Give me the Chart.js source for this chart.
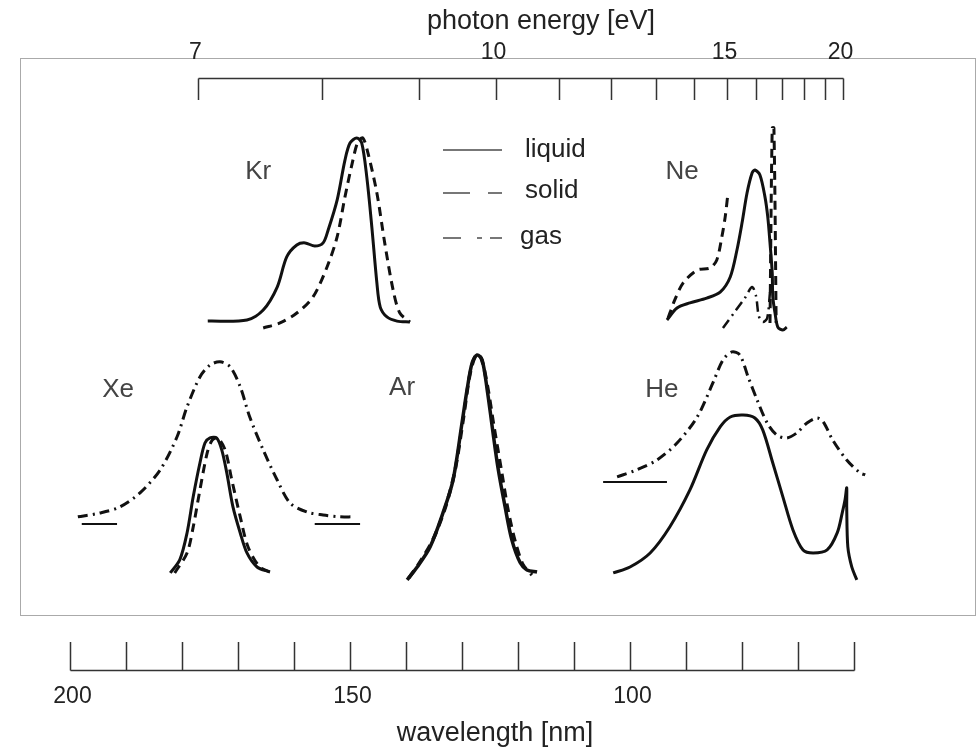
<!DOCTYPE html>
<html>
<head>
<meta charset="utf-8">
<script src="https://cdn.jsdelivr.net/npm/chart.js@4.4.1/dist/chart.umd.min.js"></script>
<style>
  html, body { margin: 0; padding: 0; background: #fff; }
  #wrap { width: 980px; height: 748px; }
</style>
</head>
<body>
<div id="wrap"><canvas id="c" width="980" height="748"></canvas></div>
<script>
// luminescence spectra of rare gases, wavelength in nm, intensity in arbitrary units
const krLiquidNm = [175.4, 168.4, 165.5, 163.0, 161.3, 159.5, 158.0, 156.3, 154.8, 153.9, 152.3, 150.9, 150.0, 148.8, 147.9, 147.0, 146.1, 145.2, 144.6, 143.4, 141.6, 139.3];
const krLiquidI  = [1.7, 2.2, 6.5, 16.5, 29.6, 34.8, 35.7, 34.3, 35.7, 41.3, 54.3, 71.7, 79.1, 81.3, 79.1, 64.3, 42.6, 18.3, 7.8, 3.5, 1.7, 1.3];
const krSolidNm  = [165.5, 162.5, 159.5, 156.6, 154.1, 152.3, 150.9, 149.6, 148.6, 147.7, 146.8, 145.2, 143.8, 142.3, 141.1, 139.3];
const krSolidI   = [-1.3, 0.9, 5.2, 12.2, 25.2, 38.3, 55.7, 70.4, 79.6, 81.3, 74.8, 57.4, 35.7, 15.2, 5.2, 1.3];

const neLiquidNm = [93.4, 91.6, 89.3, 86.3, 83.9, 82.1, 80.9, 80.0, 79.1, 78.2, 77.7, 76.8, 75.9, 75.4, 75.0, 74.6, 74.5, 74.1, 73.6, 72.7, 72.0];
const neLiquidI  = [2.2, 7.4, 9.6, 11.7, 14.3, 20.9, 32.6, 44.3, 57.4, 66.1, 67.4, 65.2, 55.7, 47.0, 35.7, 22.6, 12.2, 5.2, -0.9, -2.2, -0.9];
const neSolidNm  = [93.2, 92.0, 90.5, 88.0, 85.7, 84.5, 83.6, 83.0, 82.5, 78.0, 75.0, 74.6, 74.3, 73.9];
const neSolidI   = [3.0, 10.9, 18.3, 23.9, 24.8, 28.3, 38.3, 47.0, 57.4, null, 0.9, 85.7, 85.7, 0.9];
const neGasNm    = [83.4, 81.3, 79.5, 78.2, 77.5, 77.0, 76.3, 75.5, 75.0];
const neGasI     = [-1.3, 5.7, 11.7, 16.5, 12.6, 3.9, 1.3, 3.0, 14.3];

const xeGasNm    = [198.6, 194.6, 191.1, 187.5, 183.9, 180.9, 179.1, 176.8, 175.0, 173.2, 171.4, 169.6, 167.9, 165.5, 163.0, 160.7, 157.7, 154.8, 151.8, 149.5];
const xeGasI     = [28.3, 30.0, 32.6, 38.7, 48.7, 63.0, 76.1, 89.1, 94.3, 95.7, 93.5, 84.8, 71.7, 57.4, 44.3, 34.3, 30.4, 29.1, 28.3, 28.3];
const xeLiquidNm = [182.1, 180.4, 179.1, 178.0, 176.8, 175.9, 175.0, 173.8, 172.9, 172.0, 170.9, 169.6, 168.4, 166.6, 164.3];
const xeLiquidI  = [3.9, 9.6, 21.3, 37.0, 51.7, 60.4, 62.6, 62.6, 57.4, 47.4, 32.6, 21.3, 12.6, 6.5, 4.3];
const xeSolidNm  = [181.3, 179.1, 178.0, 176.8, 175.5, 174.6, 173.6, 172.3, 171.1, 169.6, 168.2, 166.1, 163.8];
const xeSolidI   = [3.9, 12.6, 23.9, 40.0, 56.1, 61.7, 62.6, 57.4, 44.3, 28.3, 15.2, 6.5, 3.9];
const xeGasZeroLeftNm  = [197.9, 191.6];
const xeGasZeroRightNm = [156.3, 148.2];
const xeGasZeroI       = [25.2, 25.2];

const arLiquidNm = [139.8, 138.0, 135.7, 133.4, 131.6, 130.0, 129.1, 128.2, 127.3, 126.4, 125.5, 124.6, 123.6, 122.3, 121.1, 119.6, 118.4, 116.6];
const arLiquidI  = [0.9, 6.5, 15.2, 30.0, 44.3, 69.1, 83.5, 95.2, 98.7, 96.5, 83.5, 67.4, 50.0, 32.6, 18.3, 8.3, 5.2, 4.3];
const arSolidNm  = [139.5, 137.5, 135.2, 133.0, 131.3, 129.8, 128.6, 127.5, 126.6, 125.5, 124.3, 123.0, 121.8, 120.5, 119.1, 117.5];
const arSolidI   = [1.7, 8.7, 18.3, 32.2, 47.8, 70.4, 90.0, 98.7, 97.4, 85.7, 67.4, 48.7, 31.3, 17.4, 7.4, 3.0];

const heGasNm    = [102.3, 98.8, 95.2, 91.6, 88.0, 85.2, 83.4, 81.8, 80.4, 78.9, 77.3, 75.5, 73.8, 72.0, 70.2, 68.4, 66.6, 65.5, 63.8, 61.3, 58.9, 58.0];
const heGasI     = [45.7, 48.7, 53.0, 60.4, 71.7, 86.5, 96.5, 100.0, 98.7, 89.1, 79.1, 69.1, 63.9, 62.6, 64.8, 69.1, 71.3, 69.6, 61.7, 53.0, 47.4, 46.5];
const heLiquidNm = [103.0, 100.0, 96.4, 92.9, 89.3, 86.3, 83.9, 82.1, 79.8, 77.7, 76.3, 74.5, 72.7, 70.9, 69.1, 67.3, 64.8, 63.0, 62.1, 61.6, 61.3, 61.3, 61.1, 60.4, 59.5];
const heLiquidI  = [3.9, 6.5, 12.6, 23.9, 40.0, 57.4, 67.4, 71.7, 72.6, 71.3, 66.1, 51.7, 37.0, 22.6, 13.9, 12.6, 13.9, 21.3, 30.0, 35.7, 40.9, 32.6, 15.2, 6.5, 0.9];
const heGasZeroNm = [104.8, 93.4];
const heGasZeroI  = [43.5, 43.5];

// panel names placed at (wavelength, intensity)
const panelNames = ['Kr', 'Ne', 'Xe', 'Ar', 'He'];
const panelNameNm = [166.4, 90.7, 191.4, 140.7, 94.3];
const panelNameI = [66.5, 66.5, 83.5, 84.3, 83.5];
const panelAxis = ['yTop', 'yTop', 'yBot', 'yBot', 'yBot'];

// axes
const energyTicks = [7, 8, 9, 10, 11, 12, 13, 14, 15, 16, 17, 18, 19, 20];
const energyLabels = [7, 10, 15, 20];
const wavelengthTicks = [200, 190, 180, 170, 160, 150, 140, 130, 120, 110, 100, 90, 80, 70, 60];
const wavelengthLabels = [200, 150, 100];
const HC = 1239.84; // eV nm

const SOLID = [];
const DASHED = [9, 6];
const DASHDOT = [10, 5, 2, 5];

function curve(label, nm, inten, axis, dash, width) {
  return {
    label: label,
    data: nm.map((v, i) => ({ x: v, y: inten[i] })),
    yAxisID: axis,
    borderColor: '#111',
    borderWidth: width || 3,
    borderDash: dash,
    borderCapStyle: 'butt',
    borderJoinStyle: 'round',
    pointRadius: 0,
    tension: 0.3,
    fill: false,
    spanGaps: false,
    clip: false
  };
}

const decor = {
  id: 'decor',
  beforeDatasetsDraw(chart) {
    const ctx = chart.ctx;
    ctx.save();
    ctx.strokeStyle = '#aaa';
    ctx.lineWidth = 1;
    ctx.strokeRect(20.5, 58.5, 955, 557);
    ctx.restore();
  },
  afterDatasetsDraw(chart) {
    const ctx = chart.ctx;
    const xs = chart.scales.x;
    const px = v => Math.round(xs.getPixelForValue(v)) + 0.5;
    ctx.save();
    ctx.strokeStyle = '#333';
    ctx.lineWidth = 1.5;

    // top energy axis
    const ex = e => px(HC / e);
    ctx.beginPath();
    ctx.moveTo(ex(7), 78.5);
    ctx.lineTo(ex(20), 78.5);
    energyTicks.forEach(e => { ctx.moveTo(ex(e), 78.5); ctx.lineTo(ex(e), 100); });
    ctx.stroke();

    // bottom wavelength axis
    ctx.beginPath();
    ctx.moveTo(px(200), 670.5);
    ctx.lineTo(px(60), 670.5);
    wavelengthTicks.forEach(w => { ctx.moveTo(px(w), 670.5); ctx.lineTo(px(w), 642); });
    ctx.stroke();

    ctx.fillStyle = '#222';
    ctx.textAlign = 'center';
    ctx.textBaseline = 'middle';
    ctx.font = '23px "Liberation Sans", Arial, sans-serif';
    energyLabels.forEach(e => ctx.fillText(String(e), ex(e) - 3, 53));
    wavelengthLabels.forEach(w => ctx.fillText(String(w), px(w) + 2, 697));

    ctx.font = '27px "Liberation Sans", Arial, sans-serif';
    ctx.fillText('photon energy [eV]', 541, 22);
    ctx.fillText('wavelength [nm]', 495, 734);

    // panel names
    ctx.fillStyle = '#444';
    ctx.font = '26px "Liberation Sans", Arial, sans-serif';
    panelNames.forEach((n, i) => {
      const y = chart.scales[panelAxis[i]].getPixelForValue(panelNameI[i]);
      ctx.fillText(n, xs.getPixelForValue(panelNameNm[i]), y);
    });

    // legend
    ctx.strokeStyle = '#777';
    ctx.lineWidth = 2;
    ctx.beginPath();
    ctx.moveTo(443, 150); ctx.lineTo(502, 150);
    ctx.moveTo(443, 193); ctx.lineTo(470, 193);
    ctx.moveTo(488, 193); ctx.lineTo(502, 193);
    ctx.moveTo(443, 238); ctx.lineTo(461, 238);
    ctx.moveTo(477, 238); ctx.lineTo(482, 238);
    ctx.moveTo(490, 238); ctx.lineTo(502, 238);
    ctx.stroke();
    ctx.fillStyle = '#222';
    ctx.textAlign = 'left';
    ctx.font = '26px "Liberation Sans", Arial, sans-serif';
    ctx.fillText('liquid', 525, 150);
    ctx.fillText('solid', 525, 191);
    ctx.fillText('gas', 520, 237);
    ctx.restore();
  }
};

new Chart(document.getElementById('c'), {
  type: 'line',
  data: {
    datasets: [
      curve('Kr liquid', krLiquidNm, krLiquidI, 'yTop', SOLID),
      curve('Kr solid', krSolidNm, krSolidI, 'yTop', DASHED),
      curve('Ne liquid', neLiquidNm, neLiquidI, 'yTop', SOLID),
      curve('Ne solid', neSolidNm, neSolidI, 'yTop', DASHED),
      curve('Ne gas', neGasNm, neGasI, 'yTop', DASHDOT, 2.5),
      curve('Xe gas', xeGasNm, xeGasI, 'yBot', DASHDOT),
      curve('Xe gas zero', xeGasZeroLeftNm, xeGasZeroI, 'yBot', SOLID, 2),
      curve('Xe gas zero', xeGasZeroRightNm, xeGasZeroI, 'yBot', SOLID, 2),
      curve('Xe liquid', xeLiquidNm, xeLiquidI, 'yBot', SOLID),
      curve('Xe solid', xeSolidNm, xeSolidI, 'yBot', DASHED),
      curve('Ar liquid', arLiquidNm, arLiquidI, 'yBot', SOLID, 3.5),
      curve('Ar solid', arSolidNm, arSolidI, 'yBot', DASHED, 3.5),
      curve('He gas', heGasNm, heGasI, 'yBot', DASHDOT),
      curve('He gas zero', heGasZeroNm, heGasZeroI, 'yBot', SOLID, 2),
      curve('He liquid', heLiquidNm, heLiquidI, 'yBot', SOLID)
    ]
  },
  options: {
    responsive: false,
    devicePixelRatio: 1,
    animation: false,
    layout: { padding: { left: 70, right: 126, top: 0, bottom: 0 } },
    scales: {
      x: { type: 'linear', min: 60, max: 200, reverse: true, display: false },
      yTop: { type: 'linear', min: -183.9, max: 141.3, display: false },
      yBot: { type: 'linear', min: -72.2, max: 253.0, display: false }
    },
    plugins: {
      legend: { display: false },
      tooltip: { enabled: false }
    }
  },
  plugins: [decor]
});
</script>
</body>
</html>
